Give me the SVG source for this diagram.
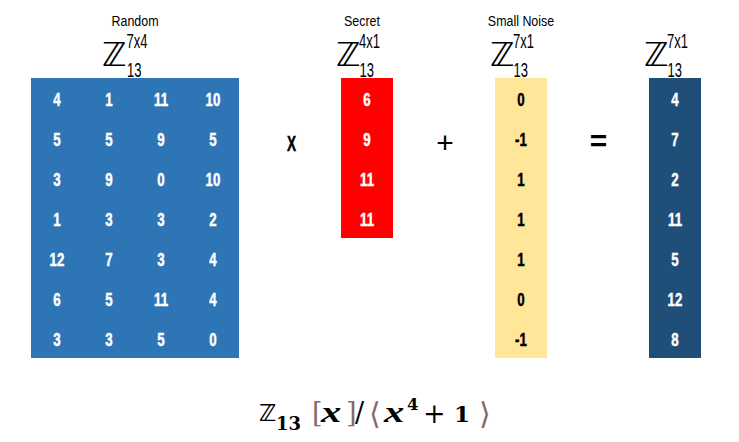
<svg xmlns="http://www.w3.org/2000/svg" width="739" height="442" viewBox="0 0 739 442">
<style>
.n{font-family:"Liberation Sans",Arial,sans-serif;font-weight:bold;font-size:19px;text-anchor:middle;stroke-width:0.5px}
.w{fill:#ffffff;stroke:#ffffff}
.k{fill:#000000;stroke:#000000}
.lbl{font-family:"Liberation Sans",Arial,sans-serif;font-size:15px;text-anchor:middle;fill:#000}
.zz{font-family:"DejaVu Sans",sans-serif;font-size:33px;fill:#000}
.sc{font-family:"Liberation Sans",Arial,sans-serif;font-size:21px;fill:#000}
.op{font-family:"Liberation Sans",Arial,sans-serif;fill:#000;text-anchor:middle}
.fm{font-family:"DejaVu Serif",serif;fill:#000}
.xi{font-family:"Liberation Serif","Times New Roman",serif;font-size:30px;font-weight:bold;font-style:italic;fill:#000}
.br{fill:#866a6a;font-weight:normal}
</style>
<rect width="739" height="442" fill="#ffffff"/>
<g id="random">
<text class="lbl" transform="translate(135,26) scale(0.83,1)">Random</text>
<text class="zz" x="102" y="66">ℤ</text>
<text class="sc" transform="translate(126.5,48) scale(0.62,1)">7x4</text>
<text class="sc" transform="translate(127,77) scale(0.62,1)">13</text>
<rect x="31" y="78" width="208" height="280" fill="#2e75b6"/>
<g class="n w" transform="translate(57,0) scale(0.7,1)">
<text y="106">4</text><text y="146">5</text><text y="186">3</text><text y="226">1</text><text y="266">12</text><text y="306">6</text><text y="346">3</text>
</g>
<g class="n w" transform="translate(109,0) scale(0.7,1)">
<text y="106">1</text><text y="146">5</text><text y="186">9</text><text y="226">3</text><text y="266">7</text><text y="306">5</text><text y="346">3</text>
</g>
<g class="n w" transform="translate(161,0) scale(0.7,1)">
<text y="106">11</text><text y="146">9</text><text y="186">0</text><text y="226">3</text><text y="266">3</text><text y="306">11</text><text y="346">5</text>
</g>
<g class="n w" transform="translate(213,0) scale(0.7,1)">
<text y="106">10</text><text y="146">5</text><text y="186">10</text><text y="226">2</text><text y="266">4</text><text y="306">4</text><text y="346">0</text>
</g>
</g>
<g id="secret">
<text class="lbl" transform="translate(362,26) scale(0.83,1)">Secret</text>
<text class="zz" x="336" y="66">ℤ</text>
<text class="sc" transform="translate(359,48) scale(0.62,1)">4x1</text>
<text class="sc" transform="translate(359.5,77) scale(0.62,1)">13</text>
<rect x="341" y="78" width="52" height="160" fill="#ff0000"/>
<g class="n w" transform="translate(367,0) scale(0.7,1)">
<text y="106">6</text><text y="146">9</text><text y="186">11</text><text y="226">11</text>
</g>
</g>
<g id="noise">
<text class="lbl" transform="translate(521,26) scale(0.83,1)">Small Noise</text>
<text class="zz" x="490" y="66">ℤ</text>
<text class="sc" transform="translate(513,48) scale(0.62,1)">7x1</text>
<text class="sc" transform="translate(513.5,77) scale(0.62,1)">13</text>
<rect x="495" y="78" width="52" height="280" fill="#ffe699"/>
<g class="n k" transform="translate(521,0) scale(0.7,1)">
<text y="106">0</text><text y="146">-1</text><text y="186">1</text><text y="226">1</text><text y="266">1</text><text y="306">0</text><text y="346">-1</text>
</g>
</g>
<g id="result">
<text class="zz" x="644" y="66">ℤ</text>
<text class="sc" transform="translate(667,48) scale(0.62,1)">7x1</text>
<text class="sc" transform="translate(667.5,77) scale(0.62,1)">13</text>
<rect x="649" y="78" width="52" height="280" fill="#1f4e79"/>
<g class="n w" transform="translate(675,0) scale(0.7,1)">
<text y="106">4</text><text y="146">7</text><text y="186">2</text><text y="226">11</text><text y="266">5</text><text y="306">12</text><text y="346">8</text>
</g>
</g>
<g id="operators">
<text class="n k" transform="translate(291.5,151) scale(0.62,1)" style="font-size:22px">X</text>
<text class="op" x="445" y="153" style="font-size:30px">+</text>
<text class="op" x="598.5" y="151" style="font-size:30px;font-weight:bold">=</text>
</g>
<g id="formula">
<text x="259" y="421" style="font-family:'DejaVu Sans',sans-serif;font-size:23px;font-weight:bold">ℤ</text>
<text class="fm" x="276" y="430" style="font-size:18px;font-weight:bold">13</text>
<text class="fm br" x="312" y="422" style="font-size:27px">[</text>
<text class="xi" transform="translate(321,422) scale(1.35,1)">x</text>
<text class="fm br" x="346" y="422" style="font-size:27px">]</text>
<text class="fm" x="355" y="422" style="font-size:27px">/</text>
<text class="fm br" x="369" y="424" style="font-size:30px">⟨</text>
<text class="xi" transform="translate(384,422) scale(1.35,1)">x</text>
<text class="fm" x="407" y="410" style="font-size:16.5px;font-weight:bold">4</text>
<text class="fm" x="423" y="423" style="font-size:27px">+</text>
<text class="fm" x="454" y="422" style="font-size:23px;font-weight:bold">1</text>
<text class="fm br" x="479" y="424" style="font-size:30px">⟩</text>
</g>
</svg>
